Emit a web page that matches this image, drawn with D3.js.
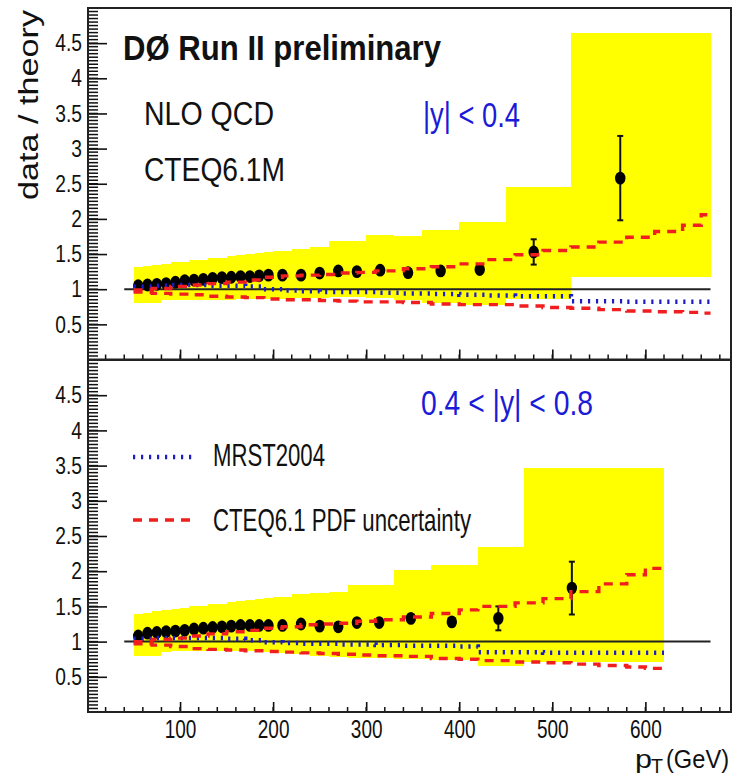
<!DOCTYPE html>
<html>
<head>
<meta charset="utf-8">
<script src="https://cdn.jsdelivr.net/npm/d3@7"></script>
<style>
  body { margin: 0; background: #fff; }
  svg { display: block; }
  text { font-family: "Liberation Sans", Arial, Helvetica, sans-serif; }
</style>
</head>
<body>
<svg id="chart" width="736" height="778"></svg>
<script>
// |y| < 0.4
const ptTop = [55, 65, 75, 85, 95, 105, 115, 125, 135, 145, 155, 165, 175, 185, 195, 210, 230, 250, 270, 290, 315, 345, 380, 422, 480, 573];
const ratioTop = [1.05, 1.06, 1.07, 1.08, 1.10, 1.12, 1.13, 1.14, 1.155, 1.165, 1.17, 1.18, 1.18, 1.19, 1.20, 1.20, 1.20, 1.23, 1.26, 1.25, 1.27, 1.235, 1.26, 1.28, 1.53, 2.58];
const errTop = [0.01, 0.01, 0.01, 0.01, 0.01, 0.01, 0.01, 0.01, 0.01, 0.01, 0.01, 0.01, 0.01, 0.01, 0.01, 0.01, 0.01, 0.012, 0.015, 0.02, 0.02, 0.03, 0.03, 0.05, 0.18, 0.60];
const bandEdgesTop = [50, 60, 70, 80, 90, 100, 110, 120, 130, 140, 150, 160, 170, 180, 190, 200, 220, 240, 260, 280, 300, 330, 360, 400, 450, 520, 670];
const bandHiTop = [1.32, 1.33, 1.35, 1.36, 1.38, 1.39, 1.41, 1.42, 1.44, 1.45, 1.47, 1.48, 1.50, 1.51, 1.53, 1.55, 1.57, 1.60, 1.68, 1.68, 1.77, 1.75, 1.84, 1.96, 2.46, 4.65];
const bandLoTop = [0.80, 0.80, 0.80, 0.84, 0.85, 0.85, 0.85, 0.85, 0.85, 0.85, 0.85, 0.86, 0.86, 0.86, 0.86, 0.86, 0.87, 0.88, 0.89, 0.89, 0.87, 0.84, 0.80, 0.77, 0.86, 1.17];
const thPtTop = [50, 70, 90, 110, 130, 150, 170, 190, 210, 230, 250, 270, 290, 310, 340, 370, 400, 430, 460, 490, 520, 550, 580, 610, 640, 660, 670];
const cteqHiTop = [0.99, 1.01, 1.04, 1.06, 1.08, 1.10, 1.13, 1.17, 1.19, 1.20, 1.21, 1.23, 1.24, 1.26, 1.29, 1.32, 1.36, 1.42, 1.49, 1.55, 1.60, 1.67, 1.74, 1.82, 1.91, 2.06];
const cteqLoTop = [0.96, 0.94, 0.93, 0.92, 0.90, 0.89, 0.88, 0.86, 0.85, 0.85, 0.84, 0.83, 0.82, 0.82, 0.81, 0.79, 0.78, 0.78, 0.76, 0.74, 0.73, 0.71, 0.69, 0.68, 0.67, 0.66];
const mrstTop = [1.04, 1.05, 1.06, 1.06, 1.05, 1.05, 1.04, 1.00, 0.98, 0.97, 0.96, 0.96, 0.96, 0.95, 0.94, 0.93, 0.92, 0.91, 0.90, 0.90, 0.83, 0.83, 0.82, 0.82, 0.82, 0.82];

// 0.4 < |y| < 0.8
const ptBot = [55, 65, 75, 85, 95, 105, 115, 125, 135, 145, 155, 165, 175, 185, 195, 210, 230, 250, 270, 290, 314, 348, 392, 442, 521];
const ratioBot = [1.08, 1.12, 1.13, 1.14, 1.15, 1.16, 1.18, 1.19, 1.20, 1.21, 1.22, 1.23, 1.23, 1.23, 1.23, 1.23, 1.25, 1.22, 1.21, 1.27, 1.27, 1.33, 1.28, 1.33, 1.76];
const errBot = [0.01, 0.01, 0.01, 0.01, 0.01, 0.01, 0.01, 0.01, 0.01, 0.01, 0.01, 0.01, 0.01, 0.01, 0.01, 0.01, 0.01, 0.012, 0.015, 0.02, 0.02, 0.02, 0.03, 0.17, 0.375];
const bandEdgesBot = [50, 60, 70, 80, 90, 100, 110, 120, 130, 140, 150, 160, 170, 180, 190, 200, 220, 240, 260, 280, 300, 330, 370, 420, 470, 620];
const bandHiBot = [1.39, 1.41, 1.43, 1.45, 1.46, 1.48, 1.50, 1.51, 1.53, 1.54, 1.56, 1.57, 1.59, 1.60, 1.62, 1.64, 1.67, 1.69, 1.70, 1.80, 1.80, 2.02, 2.09, 2.35, 3.46];
const bandLoBot = [0.79, 0.79, 0.79, 0.85, 0.86, 0.87, 0.87, 0.87, 0.87, 0.87, 0.87, 0.86, 0.86, 0.86, 0.85, 0.84, 0.82, 0.80, 0.78, 0.77, 0.76, 0.75, 0.74, 0.66, 0.71];
const thPtBot = [50, 70, 90, 110, 130, 150, 170, 190, 210, 230, 250, 270, 290, 310, 340, 370, 400, 420, 460, 490, 520, 550, 580, 600, 620];
const cteqHiBot = [1.00, 1.03, 1.05, 1.08, 1.11, 1.14, 1.16, 1.19, 1.21, 1.24, 1.25, 1.26, 1.29, 1.31, 1.35, 1.40, 1.45, 1.50, 1.55, 1.61, 1.71, 1.82, 1.95, 2.04];
const cteqLoBot = [0.97, 0.95, 0.93, 0.90, 0.89, 0.88, 0.87, 0.86, 0.85, 0.84, 0.83, 0.82, 0.81, 0.80, 0.79, 0.76, 0.75, 0.73, 0.71, 0.70, 0.68, 0.66, 0.64, 0.62];
const mrstBot = [1.04, 1.05, 1.05, 1.05, 1.05, 1.04, 1.02, 0.99, 0.98, 0.97, 0.97, 0.96, 0.96, 0.95, 0.94, 0.94, 0.93, 0.85, 0.85, 0.84, 0.84, 0.84, 0.84, 0.84];

const unityRange = [40, 670];
const yTicks = [0.5, 1, 1.5, 2, 2.5, 3, 3.5, 4, 4.5];
const xTicks = [100, 200, 300, 400, 500, 600];
const rapLabels = ['|y| < 0.4', '0.4 < |y| < 0.8'];
const legendLabels = ['MRST2004', 'CTEQ6.1 PDF uncertainty'];

var YELLOW = '#ffff00', RED = '#f01e1e', BLUE = '#1c1cc8', TEXTBLUE = '#1a1ad8';

var svg = d3.select('#chart');
var x = d3.scaleLinear().domain([0, 692]).range([87, 731]);
var minorY = d3.range(1, 100).map(function (i) { return i * 0.05; });
var minorX = d3.range(1, 35).map(function (i) { return i * 20; });

function stepPoints(edges, vals) {
	return edges.map(function (e, i) { return [e, vals[Math.min(i, vals.length - 1)]]; });
}

function drawPanel(o) {
	var g = svg.append('g');
	var y = d3.scaleLinear().domain([0, 5]).range([o.bottom, o.top]);

	// systematic band
	g.append('g')
		.selectAll('rect')
		.data(o.bandHi)
		.enter()
		.append('rect')
		.attr('x', function (d, i) { return x(o.bandEdges[i]); })
		.attr('width', function (d, i) { return x(o.bandEdges[i + 1]) - x(o.bandEdges[i]); })
		.attr('y', function (d) { return y(d); })
		.attr('height', function (d, i) { return y(o.bandLo[i]) - y(d); })
		.attr('fill', YELLOW)
		.attr('shape-rendering', 'crispEdges');

	// line at 1
	g.append('line')
		.attr('x1', x(unityRange[0])).attr('x2', x(unityRange[1]))
		.attr('y1', y(1)).attr('y2', y(1))
		.attr('stroke', '#222').attr('stroke-width', 2);

	// error bars
	var eb = g.append('g').attr('stroke', '#111').attr('stroke-width', 2);
	o.pt.forEach(function (p, i) {
		var e = o.err[i];
		if (e < 0.04) return;
		var cx = x(p);
		eb.append('line').attr('x1', cx).attr('x2', cx).attr('y1', y(o.ratio[i] + e)).attr('y2', y(o.ratio[i] - e));
		eb.append('line').attr('x1', cx - 3).attr('x2', cx + 3).attr('y1', y(o.ratio[i] + e)).attr('y2', y(o.ratio[i] + e));
		eb.append('line').attr('x1', cx - 3).attr('x2', cx + 3).attr('y1', y(o.ratio[i] - e)).attr('y2', y(o.ratio[i] - e));
	});

	// data points
	g.append('g')
		.selectAll('ellipse')
		.data(o.ratio)
		.enter()
		.append('ellipse')
		.attr('cx', function (d, i) { return x(o.pt[i]); })
		.attr('cy', function (d) { return y(d); })
		.attr('rx', 5.2)
		.attr('ry', 6.4)
		.attr('fill', '#000');

	var line = d3.line()
		.x(function (d) { return x(d[0]); })
		.y(function (d) { return y(d[1]); })
		.curve(d3.curveStepAfter);

	g.append('path')
		.attr('d', line(stepPoints(o.thPt, o.mrst)))
		.attr('fill', 'none').attr('stroke', BLUE).attr('stroke-width', 4.5)
		.attr('stroke-dasharray', '2.2,5.8');
	[o.cteqHi, o.cteqLo].forEach(function (vals) {
		g.append('path')
			.attr('d', line(stepPoints(o.thPt, vals)))
			.attr('fill', 'none').attr('stroke', RED).attr('stroke-width', 3.4)
			.attr('stroke-dasharray', '9,7');
	});

	// minor ticks
	var ticks = g.append('g').attr('stroke', '#111').attr('stroke-width', 1.5);
	ticks.selectAll('line.my')
		.data(minorY)
		.enter()
		.append('line')
		.attr('class', 'my')
		.attr('x1', 88).attr('x2', 98)
		.attr('y1', function (d) { return y(d); })
		.attr('y2', function (d) { return y(d); });
	ticks.selectAll('line.mx')
		.data(minorX)
		.enter()
		.append('line')
		.attr('class', 'mx')
		.attr('x1', function (d) { return x(d); })
		.attr('x2', function (d) { return x(d); })
		.attr('y1', o.bottom).attr('y2', o.bottom - 5);

	// y axis, major
	var yb = g.append('g').attr('transform', 'translate(88,0)');
	yb.call(d3.axisLeft(y).tickValues(yTicks).tickSize(-19).tickPadding(7.5)
		.tickFormat(function (d) { return String(+d.toFixed(1)); }));
	yb.select('.domain').remove();
	yb.attr('font-size', 24).attr('font-family', '"Liberation Sans", Arial, sans-serif');
	yb.selectAll('text').attr('transform', 'scale(0.8,1)').attr('fill', '#111');
	yb.selectAll('line').attr('stroke', '#111').attr('stroke-width', 1.6);

	// x axis, major
	var xb = g.append('g').attr('transform', 'translate(0,' + o.bottom + ')');
	xb.call(d3.axisBottom(x).tickValues(xTicks).tickSize(-10).tickPadding(8)
		.tickFormat(o.xLabels ? d3.format('d') : function () { return ''; }));
	xb.select('.domain').remove();
	xb.attr('font-size', 25).attr('font-family', '"Liberation Sans", Arial, sans-serif');
	xb.selectAll('text').attr('transform', 'scale(0.76,1)').attr('fill', '#111');
	xb.selectAll('line').attr('stroke', '#111').attr('stroke-width', 1.6);

	// frame
	g.append('rect')
		.attr('x', 88).attr('y', o.top)
		.attr('width', 731 - 88).attr('height', o.bottom - o.top)
		.attr('fill', 'none').attr('stroke', '#222').attr('stroke-width', 2);

	return y;
}

drawPanel({
	top: 8, bottom: 359.5, xLabels: false,
	pt: ptTop, ratio: ratioTop, err: errTop,
	bandEdges: bandEdgesTop, bandHi: bandHiTop, bandLo: bandLoTop,
	thPt: thPtTop, cteqHi: cteqHiTop, cteqLo: cteqLoTop, mrst: mrstTop
});
drawPanel({
	top: 360, bottom: 712, xLabels: true,
	pt: ptBot, ratio: ratioBot, err: errBot,
	bandEdges: bandEdgesBot, bandHi: bandHiBot, bandLo: bandLoBot,
	thPt: thPtBot, cteqHi: cteqHiBot, cteqLo: cteqLoBot, mrst: mrstBot
});

function label(str, px, py, size, len, opts) {
	opts = opts || {};
	return svg.append('text')
		.attr('x', px).attr('y', py)
		.attr('font-size', size)
		.attr('fill', opts.fill || '#111')
		.attr('font-weight', opts.bold ? 'bold' : null)
		.attr('textLength', len)
		.attr('lengthAdjust', 'spacingAndGlyphs')
		.text(str);
}

label('DØ Run II preliminary', 123, 60, 35, 318, { bold: true });
label('NLO QCD', 144, 125, 33, 130);
label('CTEQ6.1M', 144, 181, 33, 141);
label(rapLabels[0], 423, 127, 35, 97, { fill: TEXTBLUE });
label(rapLabels[1], 421, 415, 35, 172, { fill: TEXTBLUE });

// legend
svg.append('line').attr('x1', 133).attr('x2', 194).attr('y1', 457).attr('y2', 457)
	.attr('stroke', BLUE).attr('stroke-width', 4.5).attr('stroke-dasharray', '2.2,5.8');
svg.append('line').attr('x1', 133).attr('x2', 194).attr('y1', 520).attr('y2', 520)
	.attr('stroke', RED).attr('stroke-width', 3.4).attr('stroke-dasharray', '9,7');
label(legendLabels[0], 213, 466, 32, 112);
label(legendLabels[1], 213, 531, 32, 258);

// axis titles
svg.append('text')
	.attr('transform', 'translate(38,10) rotate(-90)')
	.attr('text-anchor', 'end')
	.attr('font-size', 27)
	.attr('fill', '#111')
	.attr('textLength', 190)
	.attr('lengthAdjust', 'spacingAndGlyphs')
	.text('data / theory');

label('p', 635, 768, 26, 17);
label('T', 651, 773, 20, 12);
label('(GeV)', 666, 768, 26, 63);
</script>
</body>
</html>
